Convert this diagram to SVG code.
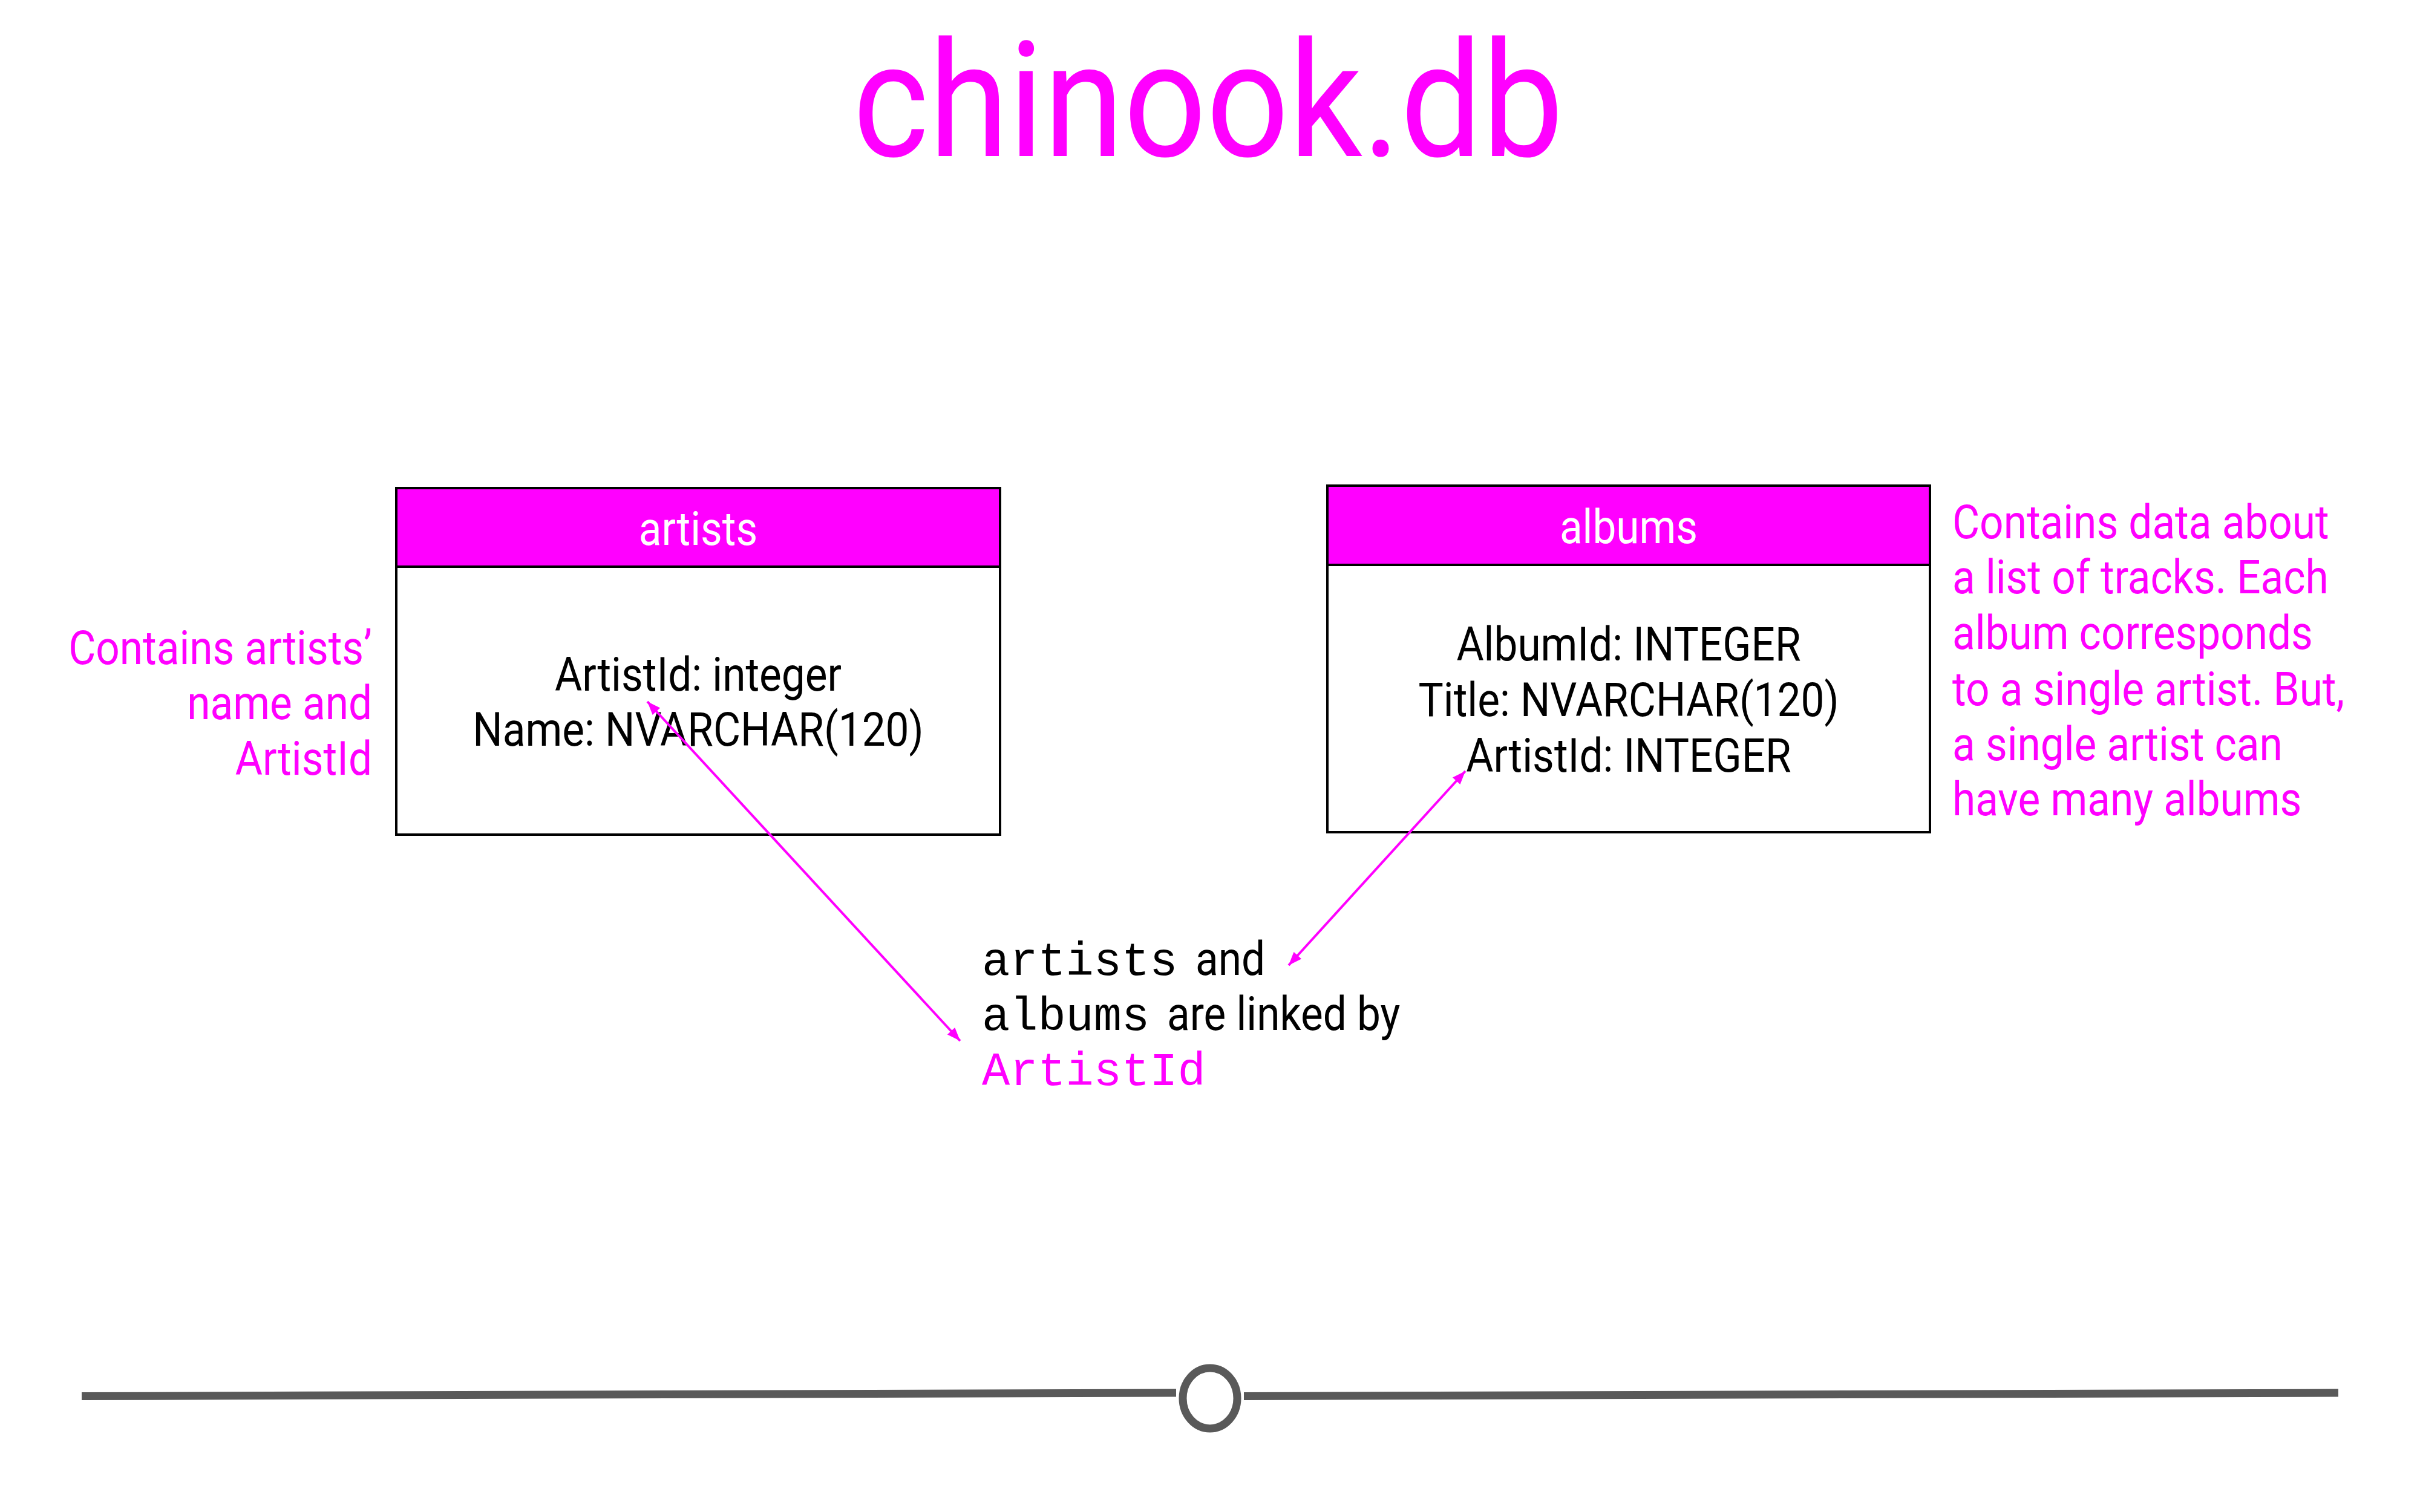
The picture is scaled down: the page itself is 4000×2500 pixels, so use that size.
<svg xmlns="http://www.w3.org/2000/svg" width="4000" height="2500" viewBox="0 0 4000 2500">
  <defs>
    <style>
      .sans { font-family: Roboto, "Liberation Sans", sans-serif; font-size: 77px; }
      .mono { font-family: "Liberation Mono", "DejaVu Sans Mono", monospace; font-size: 77px; }
      .pink { fill: #FF00FF; }
      .black { fill: #000000; }
      .white { fill: #FFFFFF; }
      .box { fill: #FFFFFF; stroke: #000000; stroke-width: 4; }
      .head { fill: #FF00FF; stroke: #000000; stroke-width: 4; }
      .link { stroke: #FF00FF; stroke-width: 4; fill: none; marker-start: url(#arrow); marker-end: url(#arrow); }
      .rail { stroke: #595959; stroke-width: 13; fill: none; }
    </style>
    <marker id="arrow" markerUnits="userSpaceOnUse" viewBox="-24 -11 26 22" refX="0" refY="0" markerWidth="26" markerHeight="22" orient="auto-start-reverse">
      <path d="M0,0 L-22,-8.5 L-22,8.5 Z" fill="#FF00FF"/>
    </marker>
  </defs>
  <rect width="4000" height="2500" fill="#FFFFFF"/>

  <g id="title">
    <text class="pink" font-family="Roboto, 'Liberation Sans', sans-serif" font-size="266" text-anchor="middle" transform="translate(1997,258) scale(0.9,1)">chinook.db</text>
  </g>

  <g id="node-artists">
    <rect class="box" x="655" y="807" width="998" height="573"/>
    <rect class="head" x="655" y="807" width="998" height="130"/>
    <text class="sans white" text-anchor="middle" transform="translate(1154,901) scale(0.9,1)">artists</text>
    <text class="sans black" text-anchor="middle" transform="translate(1154,1142) scale(0.9,1)">ArtistId: integer</text>
    <text class="sans black" text-anchor="middle" transform="translate(1154,1233) scale(0.9,1)">Name: NVARCHAR(120)</text>
  </g>

  <g id="node-albums">
    <rect class="box" x="2194" y="803" width="996" height="573"/>
    <rect class="head" x="2194" y="803" width="996" height="131"/>
    <text class="sans white" text-anchor="middle" transform="translate(2692,898) scale(0.9,1)">albums</text>
    <text class="sans black" text-anchor="middle" transform="translate(2692,1092) scale(0.9,1)">AlbumId: INTEGER</text>
    <text class="sans black" text-anchor="middle" transform="translate(2692,1184) scale(0.9,1)">Title: NVARCHAR(120)</text>
    <text class="sans black" text-anchor="middle" transform="translate(2692,1276) scale(0.9,1)">ArtistId: INTEGER</text>
  </g>

  <g id="note-artists">
    <text class="sans pink" text-anchor="end" transform="translate(615,1098) scale(0.9,1)">Contains artists’</text>
    <text class="sans pink" text-anchor="end" transform="translate(615,1189) scale(0.9,1)">name and</text>
    <text class="sans pink" text-anchor="end" transform="translate(615,1281) scale(0.9,1)">ArtistId</text>
  </g>

  <g id="note-albums">
    <text class="sans pink" transform="translate(3227,890) scale(0.9,1)">Contains data about</text>
    <text class="sans pink" transform="translate(3227,981) scale(0.9,1)">a list of tracks. Each</text>
    <text class="sans pink" transform="translate(3227,1073) scale(0.9,1)">album corresponds</text>
    <text class="sans pink" transform="translate(3227,1166) scale(0.9,1)">to a single artist. But,</text>
    <text class="sans pink" transform="translate(3227,1257) scale(0.9,1)">a single artist can</text>
    <text class="sans pink" transform="translate(3227,1348) scale(0.9,1)">have many albums</text>
  </g>

  <g id="note-link">
    <text class="mono black" x="1623" y="1612">artists</text>
    <text class="sans black" transform="translate(1976,1612) scale(0.9,1)">and</text>
    <text class="mono black" x="1623" y="1703">albums</text>
    <text class="sans black" transform="translate(1929,1703) scale(0.9,1)">are linked by</text>
    <text class="mono pink" x="1623" y="1794">ArtistId</text>
  </g>

  <g id="connectors">
    <line class="link" x1="1070" y1="1160" x2="1587" y2="1721"/>
    <line class="link" x1="2130" y1="1596" x2="2422" y2="1275"/>
  </g>

  <g id="slider">
    <line class="rail" x1="135" y1="2308.5" x2="1944" y2="2303"/>
    <line class="rail" x1="2056" y1="2308.5" x2="3865" y2="2303"/>
    <ellipse cx="2000" cy="2312" rx="45" ry="50" fill="#FFFFFF" stroke="#595959" stroke-width="13"/>
  </g>
</svg>
